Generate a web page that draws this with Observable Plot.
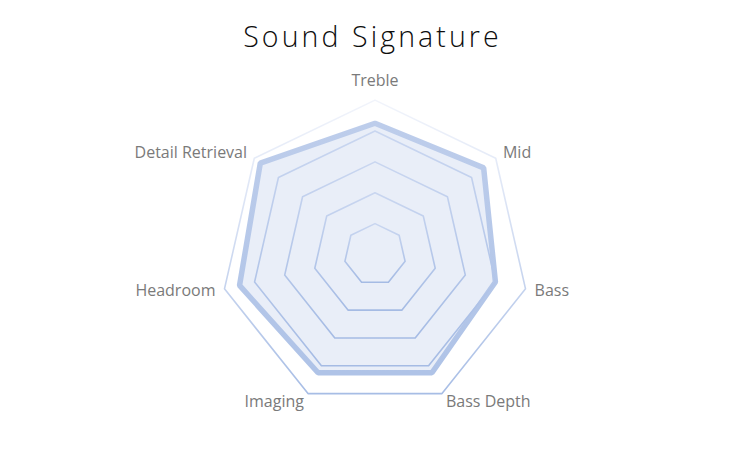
<!DOCTYPE html>
<html>
<head>
<meta charset="utf-8">
<script src="https://cdn.jsdelivr.net/npm/d3@7"></script>
<script src="https://cdn.jsdelivr.net/npm/@observablehq/plot@0.6"></script>
<style>
  html, body { margin: 0; padding: 0; background: #ffffff; }
  #wrap { width: 750px; height: 450px; position: relative; overflow: hidden; }
  #title { height: 64px; margin: 0; text-align: center; font-family: "Open Sans", sans-serif;
           font-weight: 300; font-size: 28.5px; letter-spacing: 3.1px; color: #0D0D0D;
           line-height: 28px; padding-top: 22px; padding-right: 5px; box-sizing: border-box; }
</style>
</head>
<body>
<div id="wrap">
  <div id="title">Sound Signature</div>
  <div id="chart"></div>
</div>
<script>
// ---- data ----
const axes = ["Treble", "Mid", "Bass", "Bass Depth", "Imaging", "Headroom", "Detail Retrieval"];
const values = [8.5, 9, 8, 8.5, 8.5, 9, 9.5];
const ringLevels = [2, 4, 6, 8, 10];
const maxValue = 10;

// ---- geometry helpers (unit radius space) ----
const n = axes.length;
const angle = i => (i * 2 * Math.PI) / n;
const toPoint = (axis, i, v) => ({axis, i, x: (v / maxValue) * Math.sin(angle(i)), y: (v / maxValue) * Math.cos(angle(i))});

const seriesPts = axes.map((a, i) => toPoint(a, i, values[i]));
const ringPts = ringLevels.flatMap(level => axes.map((a, i) => ({...toPoint(a, i, level), level})));
const innerRings = ringPts.filter(d => d.level < maxValue);
const outerRing = ringPts.filter(d => d.level === maxValue);
const labelPts = axes.map((a, i) => {
  const p = toPoint(a, i, maxValue * 1.06);
  const s = Math.sin(angle(i));
  p.anchor = Math.abs(s) < 1e-6 ? "middle" : (s > 0 ? "start" : "end");
  return p;
});

// ---- scales: radius R px, centre at (cx, cy) within svg ----
const W = 750, H = 386, R = 154.4, cx = 374.5, cy = 190;
const labelStyle = {fill: "#7A7A7A", fontSize: 16, fontFamily: "Open Sans, sans-serif"};

const svg = Plot.plot({
  width: W,
  height: H,
  margin: 0,
  x: {domain: [-cx / R, (W - cx) / R], axis: null},
  y: {domain: [-(H - cy) / R, cy / R], axis: null},
  marks: [
    // filled series area
    Plot.line(seriesPts, {x: "x", y: "y", curve: "linear-closed", fill: "#E9EEF8", stroke: "none"}),
    // thick series outline
    Plot.line(seriesPts, {x: "x", y: "y", curve: "linear-closed", stroke: "url(#seriesGrad)", strokeWidth: 5.5, strokeLinejoin: "miter"}),
    // inner rings
    Plot.line(innerRings, {x: "x", y: "y", z: "level", curve: "linear-closed", stroke: "url(#ringGrad)", strokeWidth: 1.6}),
    // outer ring
    Plot.line(outerRing, {x: "x", y: "y", curve: "linear-closed", stroke: "url(#outerGrad)", strokeWidth: 1.6}),
    // axis labels
    Plot.text(labelPts.filter(d => d.anchor === "middle"), {x: "x", y: "y", text: "axis", textAnchor: "middle", dy: -10, ...labelStyle}),
    Plot.text(labelPts.filter(d => d.anchor === "start"), {x: "x", y: "y", text: "axis", textAnchor: "start", ...labelStyle}),
    Plot.text(labelPts.filter(d => d.anchor === "end"), {x: "x", y: "y", text: "axis", textAnchor: "end", ...labelStyle})
  ]
});

// gradients referenced by the marks
const defs = d3.select(svg).insert("defs", ":first-child");
function grad(id, stops) {
  const g = defs.append("linearGradient").attr("id", id).attr("x1", 0).attr("y1", 0).attr("x2", 0).attr("y2", 1);
  stops.forEach(([o, c]) => g.append("stop").attr("offset", o).attr("stop-color", c));
}
grad("ringGrad", [[0, "#C9D6F0"], [1, "#A5BBE4"]]);
grad("outerGrad", [[0, "#F1F4FB"], [0.35, "#DCE4F5"], [1, "#A7BDE5"]]);
grad("seriesGrad", [[0, "#BDCDEB"], [1, "#AFC3E7"]]);

document.getElementById("chart").appendChild(svg);
</script>
</body>
</html>
